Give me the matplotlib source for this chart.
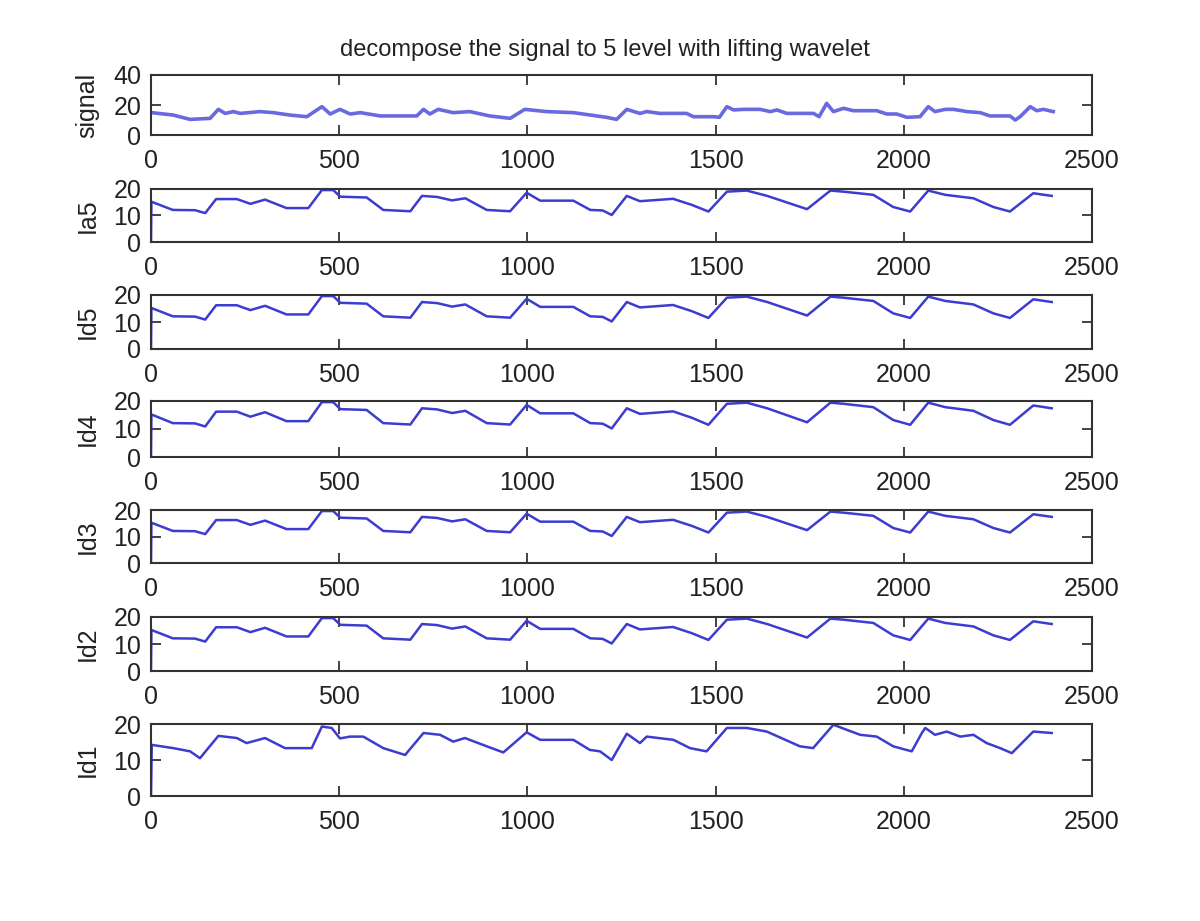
import matplotlib
matplotlib.use('Agg')
import matplotlib.pyplot as plt

plt.rcParams['font.family'] = ['Liberation Sans', 'DejaVu Sans']

# breakpoints (sample index, value)
signal_x = [2, 59, 104, 157, 179, 197, 219, 237, 290, 325, 369, 414, 454, 476, 502, 529, 556, 609,
            706, 724, 741, 763, 803, 847, 900, 954, 993, 1051, 1122, 1210, 1237, 1264, 1299, 1317,
            1352, 1423, 1441, 1494, 1510, 1530, 1548, 1574, 1618, 1645, 1663, 1689, 1760, 1775,
            1795, 1813, 1840, 1866, 1928, 1955, 1981, 2008, 2043, 2065, 2083, 2110, 2132, 2168,
            2203, 2229, 2282, 2296, 2309, 2336, 2353, 2371, 2397]
signal_y = [14.9, 13.3, 10.4, 11.1, 17.1, 14.4, 15.6, 14.4, 15.6, 14.9, 13.3, 12.2, 18.9, 14.0, 17.1,
            14.0, 14.9, 12.7, 12.7, 17.1, 14.0, 17.1, 14.9, 15.6, 12.7, 11.1, 17.1, 15.6, 14.9, 11.8,
            10.4, 17.1, 14.4, 15.6, 14.4, 14.4, 12.2, 12.2, 11.8, 18.9, 16.7, 17.1, 17.1, 15.6, 16.7,
            14.4, 14.4, 12.2, 21.1, 15.6, 17.8, 16.2, 16.2, 14.0, 14.0, 11.8, 12.2, 18.9, 15.6, 17.1,
            17.1, 15.6, 14.9, 12.7, 12.7, 10.0, 12.2, 18.9, 16.2, 17.1, 15.6]

# approximation / detail levels 5..2 (nearly identical shape)
lvl_x = [0, 1, 58, 117, 144, 173, 228, 264, 303, 360, 418, 454, 484, 503, 573, 617, 689, 720, 760,
         800, 835, 892, 954, 998, 1034, 1122, 1167, 1200, 1224, 1264, 1299, 1387, 1437, 1481, 1530,
         1583, 1637, 1743, 1805, 1840, 1919, 1972, 2017, 2065, 2110, 2185, 2238, 2282, 2344, 2393]
lvl_y = [0, 15.2, 12.1, 12.0, 10.9, 16.2, 16.2, 14.4, 16.0, 12.8, 12.8, 19.6, 19.6, 17.1, 16.8, 12.1,
         11.6, 17.4, 17.0, 15.7, 16.5, 12.1, 11.6, 18.6, 15.6, 15.6, 12.1, 11.9, 10.2, 17.4, 15.4,
         16.3, 14.0, 11.5, 19.0, 19.4, 17.4, 12.4, 19.4, 19.0, 17.8, 13.2, 11.5, 19.4, 17.8, 16.5,
         13.2, 11.5, 18.4, 17.4]

id1_x = [0, 2, 59, 104, 130, 179, 228, 254, 303, 356, 427, 454, 480, 502, 529, 564, 617, 675, 724,
         768, 803, 834, 892, 936, 998, 1034, 1122, 1166, 1193, 1224, 1264, 1299, 1317, 1388, 1432,
         1476, 1530, 1583, 1636, 1724, 1759, 1813, 1848, 1884, 1928, 1972, 2021, 2048, 2057, 2083,
         2114, 2150, 2185, 2220, 2256, 2287, 2344, 2393]
id1_y = [0, 14.2, 13.3, 12.4, 10.5, 16.7, 16.1, 14.7, 16.1, 13.3, 13.3, 19.3, 18.9, 16.0, 16.5, 16.5,
         13.3, 11.4, 17.5, 17.0, 15.1, 16.1, 13.8, 12.1, 17.7, 15.6, 15.6, 12.8, 12.4, 10.0, 17.3,
         14.7, 16.5, 15.6, 13.3, 12.4, 18.9, 18.9, 17.9, 13.8, 13.3, 19.8, 18.4, 17.0, 16.5, 13.8,
         12.4, 17.5, 18.9, 17.0, 17.9, 16.5, 17.0, 14.7, 13.3, 11.9, 17.9, 17.5]

labels = ['signal', 'Ia5', 'Id5', 'Id4', 'Id3', 'Id2', 'Id1']
series = [(signal_x, signal_y), (lvl_x, lvl_y), (lvl_x, lvl_y), (lvl_x, lvl_y),
          (lvl_x, lvl_y), (lvl_x, lvl_y), (id1_x, id1_y)]
xticks = [0, 500, 1000, 1500, 2000, 2500]

# panel top/bottom in pixels (figure is 1200 x 921)
tops = [75, 189, 295, 401, 510, 617, 724]
bottoms = [135, 242, 349, 457, 563, 671, 796]

W, H = 1200, 921
fig = plt.figure(figsize=(12, 9.21), dpi=100)

for i in range(7):
    ax = fig.add_axes([151 / W, 1 - bottoms[i] / H, 941 / W, (bottoms[i] - tops[i]) / H])
    x, y = series[i]
    if i == 0:
        ax.plot(x, y, color='#6a6ae0', lw=2.6, solid_joinstyle='round')
        ax.set_ylim(0, 40)
        ax.set_yticks([0, 20, 40])
    else:
        ax.plot(x, y, color='#3c3cd0', lw=1.8, solid_joinstyle='round')
        ax.set_ylim(0, 20)
        ax.set_yticks([0, 10, 20])
    ax.set_xlim(0, 2500)
    ax.set_xticks(xticks)
    ax.tick_params(direction='in', length=7, width=1.2, top=True, right=True,
                   labelsize=18, pad=7, colors='#222222')
    ax.tick_params(axis='x', pad=10)
    for s in ax.spines.values():
        s.set_linewidth(1.5)
        s.set_color('#333333')
    ax.set_ylabel(labels[i], fontsize=18, labelpad=10, color='#222222')

fig.text(605 / W, 1 - 50 / H, 'decompose the signal to 5 level with lifting wavelet',
         ha='center', va='center', fontsize=17, color='#222222')

fig.savefig('out.png', dpi=100)
